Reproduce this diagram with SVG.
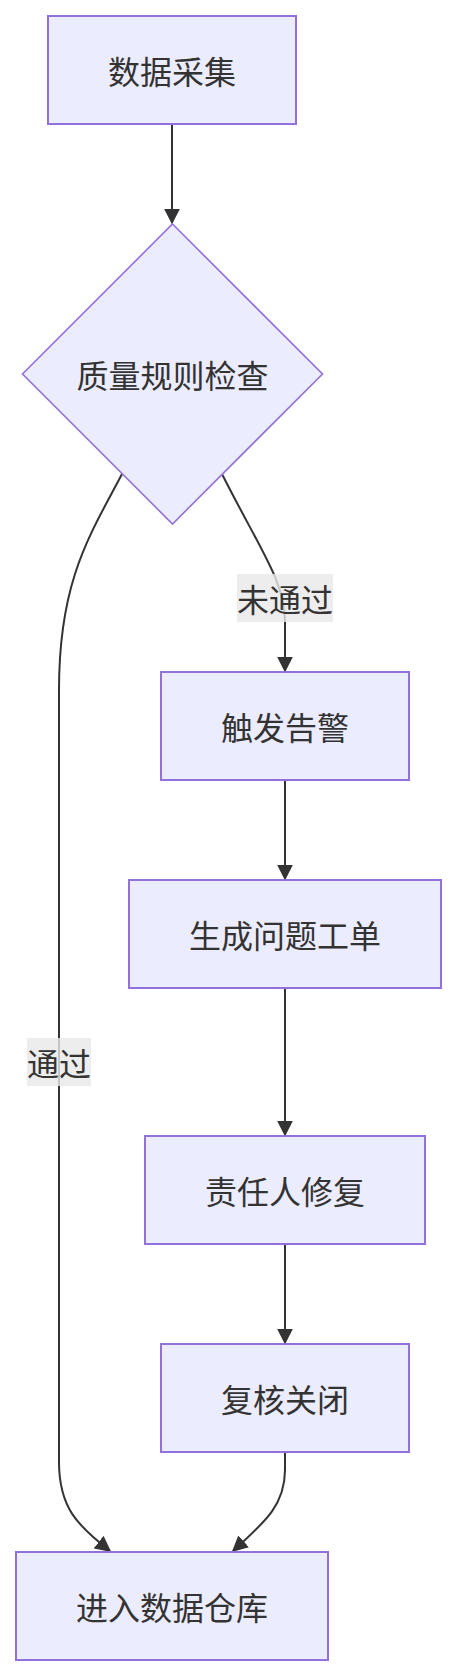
<svg xmlns="http://www.w3.org/2000/svg" width="457" height="1676" viewBox="0 0 457 1676">
<style>
.node rect,.node polygon{fill:#ECECFF;stroke:#9370DB;stroke-width:2}
.node polygon{stroke-width:1.6}
text{font-family:"Noto Sans CJK SC","Noto Sans",sans-serif;font-size:32px;fill:#333;text-anchor:middle;dominant-baseline:central}
.edge{fill:none;stroke:#333;stroke-width:2}
.lbl rect{fill:rgba(232,232,232,0.8)}
</style>
<defs>
<marker id="arr" viewBox="0 0 10 10" refX="9" refY="5" markerWidth="16" markerHeight="16" markerUnits="userSpaceOnUse" orient="auto">
<path d="M0,0 L10,5 L0,10 z" fill="#333"/>
</marker>
</defs>
<g id="edges">
<path class="edge" d="M172,124 L172,223" marker-end="url(#arr)"/>
<path class="edge" d="M222.5,475 C 262,553 285,582 285,622 L285,671" marker-end="url(#arr)"/>
<path class="edge" d="M122,474 C 90,535 59,580 59,690 L59,1462 C 59,1508 78,1526 110,1551" marker-end="url(#arr)"/>
<path class="edge" d="M285,780 L285,879" marker-end="url(#arr)"/>
<path class="edge" d="M285,988 L285,1135" marker-end="url(#arr)"/>
<path class="edge" d="M285,1244 L285,1343" marker-end="url(#arr)"/>
<path class="edge" d="M285,1452 L285,1470 C 285,1505 265,1522 233,1551" marker-end="url(#arr)"/>
<g class="lbl" id="lbl-fail"><rect x="237" y="574" width="96" height="48"/><text x="285" y="598">未通过</text></g>
<g class="lbl" id="lbl-pass"><rect x="27" y="1038" width="64" height="48"/><text x="59" y="1062">通过</text></g>
</g>
<g id="n1" class="node"><rect x="48" y="16" width="248" height="108"/><text x="172" y="70">数据采集</text></g>
<g id="n2" class="node"><polygon points="172.5,224 322.5,374 172.5,524 22.5,374"/><text x="172.5" y="374">质量规则检查</text></g>
<g id="n3" class="node"><rect x="161" y="672" width="248" height="108"/><text x="285" y="726">触发告警</text></g>
<g id="n4" class="node"><rect x="129" y="880" width="312" height="108"/><text x="285" y="934">生成问题工单</text></g>
<g id="n5" class="node"><rect x="145" y="1136" width="280" height="108"/><text x="285" y="1190">责任人修复</text></g>
<g id="n6" class="node"><rect x="161" y="1344" width="248" height="108"/><text x="285" y="1398">复核关闭</text></g>
<g id="n7" class="node"><rect x="16" y="1552" width="312" height="108"/><text x="172" y="1606">进入数据仓库</text></g>
</svg>
